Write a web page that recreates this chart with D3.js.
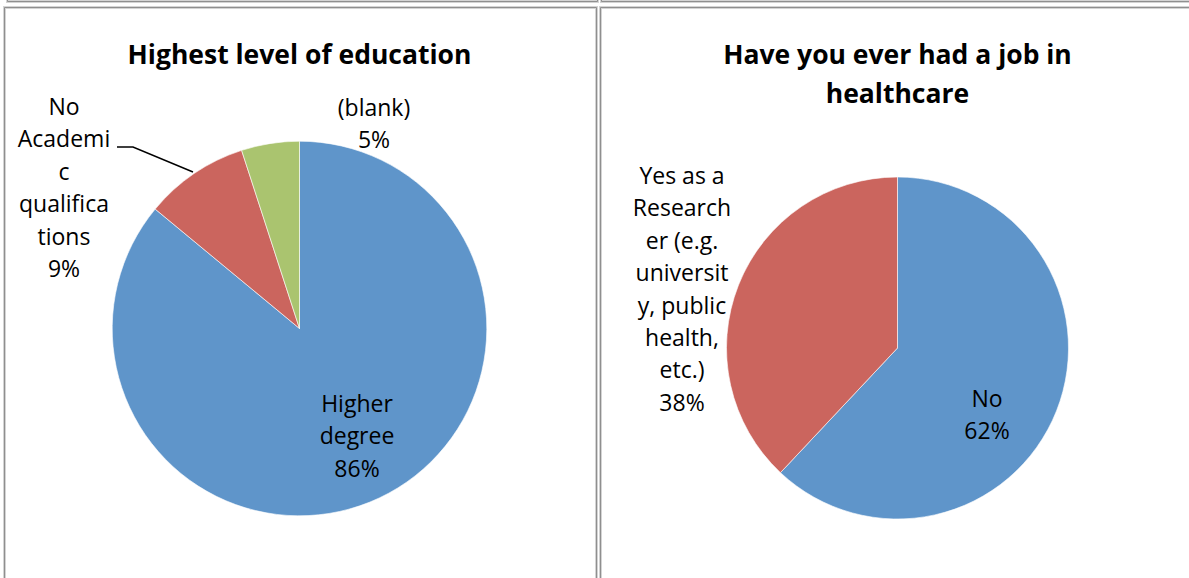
<!DOCTYPE html>
<html>
<head>
<meta charset="utf-8">
<script src="https://cdn.jsdelivr.net/npm/d3@7"></script>
<style>
  html, body { margin: 0; padding: 0; background: #fff; }
  svg { display: block; }
  text { font-family: "Open Sans", Lato, sans-serif; fill: #000; }
</style>
</head>
<body>
<svg id="chart" width="1189" height="578"></svg>
<script>
// Survey answers, shown as percentages
const eduCategories = ["Higher degree", "No Academic qualifications", "(blank)"];
const eduValues = [86, 9, 5];
const eduLabelLines = [
  ["Higher", "degree"],
  ["No", "Academi", "c", "qualifica", "tions"],
  ["(blank)"]
];

const jobCategories = ["No", "Yes as a Researcher (e.g. university, public health, etc.)"];
const jobValues = [62, 38];
const jobLabelLines = [
  ["No"],
  ["Yes as a", "Research", "er (e.g.", "universit", "y, public", "health,", "etc.)"]
];

const sliceColors = ["#5F95CA", "#CB655E", "#AAC46F"];

const svg = d3.select("#chart");

// Panel frames (gray double border, Excel style)
function frame(path) {
  svg.append("path").attr("d", path).attr("fill", "none")
    .attr("stroke", "#d4d4d4").attr("stroke-width", 3);
  svg.append("path").attr("d", path).attr("fill", "none")
    .attr("stroke", "#8f8f8f").attr("stroke-width", 1);
}
frame("M7.5,-5V1.5H597.5V-5");
frame("M601.5,-5V1.5H1195");
frame("M4.5,600V7.5H596.5V600");
frame("M600.5,600V7.5H1195");

const lineGap = 32.4;

function drawPie(cfg) {
  const g = svg.append("g").attr("transform", `translate(${cfg.cx},${cfg.cy})`);
  const pie = d3.pie().sort(null).value(d => d)(cfg.values);
  const arc = d3.arc().innerRadius(0).outerRadius(cfg.r);
  g.selectAll("path.slice").data(pie).join("path")
    .attr("class", "slice")
    .attr("d", arc)
    .attr("fill", (d, i) => sliceColors[i])
    .attr("stroke", "#fff").attr("stroke-width", 0.6);

  // title
  cfg.title.forEach((t, i) => {
    svg.append("text")
      .attr("x", cfg.cx).attr("y", cfg.titleY + i * 39)
      .attr("text-anchor", "middle").attr("dominant-baseline", "central")
      .attr("font-size", 26.5).attr("font-weight", "bold")
      .text(t);
  });

  // data labels: category lines followed by the percentage
  cfg.labelPos.forEach((p, i) => {
    const lines = cfg.labelLines[i].concat([cfg.values[i] + "%"]);
    lines.forEach((s, k) => {
      svg.append("text")
        .attr("x", p[0]).attr("y", p[1] + k * lineGap)
        .attr("text-anchor", "middle").attr("dominant-baseline", "central")
        .attr("font-size", 23)
        .text(s);
    });
  });
}

drawPie({
  cx: 299.5, cy: 328.5, r: 187.3,
  values: eduValues, labelLines: eduLabelLines,
  title: ["Highest level of education"], titleY: 54,
  labelPos: [[357, 403], [64, 106], [374, 107]]
});

// leader line for the small red slice label
svg.append("path")
  .attr("d", "M117,147H133L193,172")
  .attr("fill", "none").attr("stroke", "#000").attr("stroke-width", 1.5);

drawPie({
  cx: 897.5, cy: 348, r: 171,
  values: jobValues, labelLines: jobLabelLines,
  title: ["Have you ever had a job in", "healthcare"], titleY: 54,
  labelPos: [[987, 398], [682, 175]]
});
</script>
</body>
</html>
